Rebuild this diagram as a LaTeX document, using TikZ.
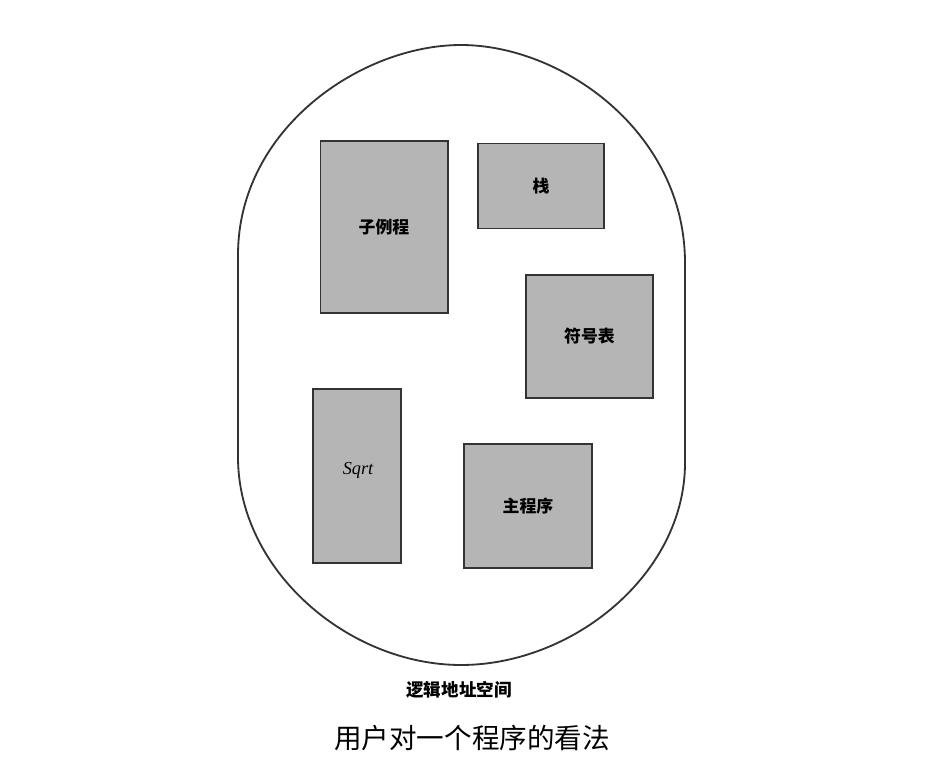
\documentclass[tikz,border=0pt]{standalone}
\usepackage{fontspec}
\setmainfont{Liberation Serif}
\newfontfamily\cjk{Noto Sans CJK SC}
\begin{document}
\begin{tikzpicture}[x=0.025cm,y=-0.025cm,
  seg/.style={draw=black!80,line width=1.4pt,fill=black!29,inner sep=0pt,
    font=\cjk\bfseries\fontsize{12}{14}\selectfont},
  oval/.style={draw=black!80,line width=1.3pt}]
\useasboundingbox (0,0) rectangle (928,780);
% logical address space outline
\draw[oval] (238,255) -- (238,457)
  .. controls (238,571) and (349,665) .. (461,665)
  .. controls (573,665) and (685,574) .. (685,463)
  -- (685,263)
  .. controls (685,132) and (562,45) .. (461,45)
  .. controls (361,45) and (238,129) .. cycle;
% segments
\node[seg,minimum width=3.175cm,minimum height=4.3cm] (sub) at (384,227) {子例程};
\node[seg,minimum width=3.15cm,minimum height=2.125cm] (stack) at (541,186) {栈};
\node[seg,minimum width=3.175cm,minimum height=3.075cm] (sym) at (589.5,336.5) {符号表};
\node[seg,minimum width=2.2cm,minimum height=4.35cm] (sqrt) at (357,476) {};
\node[font=\itshape\fontsize{13}{15}\selectfont,inner sep=0pt] (sqrtl) at (358,470) {Sqrt};
\node[seg,minimum width=3.2cm,minimum height=3.1cm] (main) at (528,506) {主程序};
% labels
\node[font=\cjk\bfseries\fontsize{12.5}{14}\selectfont,inner sep=0pt] (las) at (459,690) {逻辑地址空间};
\node[font=\cjk\fontsize{19.6}{22}\selectfont,inner sep=0pt] (cap) at (472,738) {用户对一个程序的看法};
\end{tikzpicture}
\end{document}
